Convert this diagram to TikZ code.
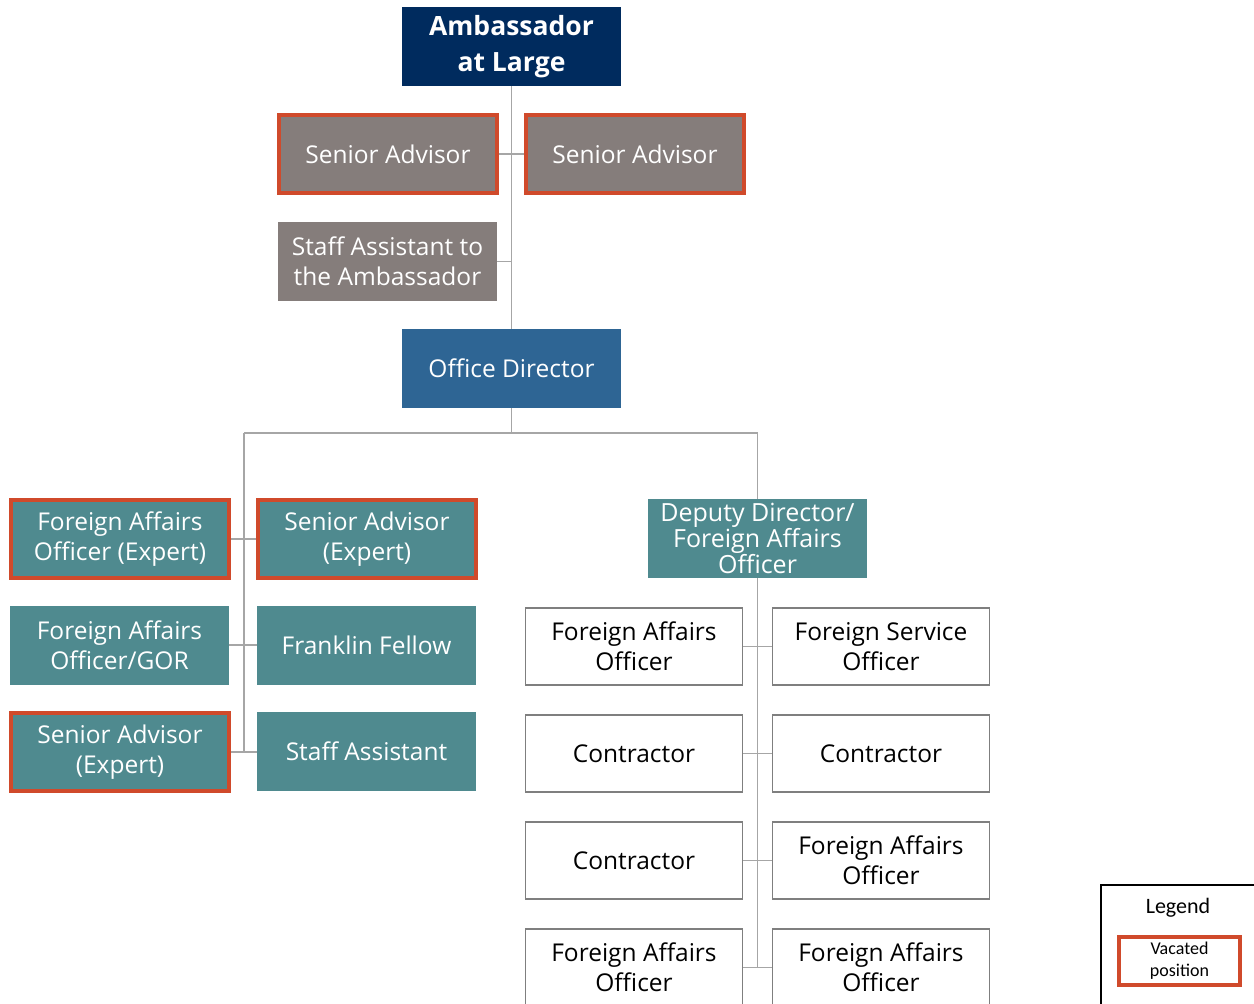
\documentclass[tikz,border=0pt]{standalone}
\usepackage{fontspec}
\setmainfont{Open Sans}
\newfontfamily\legendfont{Carlito}

\definecolor{ambnavy}{RGB}{0,43,94}
\definecolor{dirblue}{RGB}{46,101,148}
\definecolor{advgrey}{RGB}{133,125,123}
\definecolor{orgteal}{RGB}{79,138,143}
\definecolor{vacred}{RGB}{208,74,43}
\definecolor{boxgrey}{RGB}{127,127,127}
\definecolor{linkgrey}{RGB}{166,166,166}

\tikzset{
  box/.style={rectangle, minimum width=219pt, minimum height=79pt, inner sep=2pt,
    align=center, text=white, font=\fontsize{24.5}{30}\selectfont},
  vacant/.style={draw=vacred, line width=4pt, minimum width=218pt, minimum height=78pt},
  greybox/.style={box, fill=advgrey},
  tealbox/.style={box, fill=orgteal},
  whitebox/.style={box, fill=white, draw=boxgrey, line width=1.5pt, text=black,
    minimum width=217pt, minimum height=77pt},
  link/.style={draw=linkgrey, line width=1.3pt}
}

\begin{document}
\begin{tikzpicture}[x=1pt,y=-1pt]
\useasboundingbox (0,0) rectangle (1254,1004);
\clip (0,0) rectangle (1254,1004);

% top of the chart
\node[box, fill=ambnavy, font=\bfseries\fontsize{26.5}{36}\selectfont] (amb) at (511.5,46.5) {Ambassador\\at Large};
\node[greybox, vacant] (sadv1) at (388,154) {Senior Advisor};
\node[greybox, vacant] (sadv2) at (635,154) {Senior Advisor};
\node[greybox] (stamb) at (387.5,261.5) {Staff Assistant to\\the Ambassador};
\node[box, fill=dirblue] (od) at (511.5,368.5) {Office Director};

\draw[link] (amb) -- (od);
\draw[link] (sadv1) -- (sadv2);
\draw[link] (stamb) -- (stamb -| amb);

% left group
\node[tealbox, vacant] (faoexp) at (120,539) {Foreign Affairs\\Officer (Expert)};
\node[tealbox, vacant] (saexp1) at (367,539) {Senior Advisor\\(Expert)};
\node[tealbox] (faogor) at (119.5,645) {Foreign Affairs\\Officer/GOR};
\node[tealbox] (ff) at (366.5,645) {Franklin Fellow};
\node[tealbox, vacant] (saexp2) at (120,752) {Senior Advisor\\(Expert)};
\node[tealbox] (sta) at (366.5,751) {Staff Assistant};

% right group
\node[tealbox, font=\fontsize{25}{24}\selectfont] (dd) at (757.5,538.5) {Deputy Director/\\Foreign Affairs\\Officer};
\node[whitebox] (fao1) at (634,646.5) {Foreign Affairs\\Officer};
\node[whitebox] (fso) at (881,646.5) {Foreign Service\\Officer};
\node[whitebox] (con1) at (634,753.5) {Contractor};
\node[whitebox] (con2) at (881,753.5) {Contractor};
\node[whitebox] (con3) at (634,860.5) {Contractor};
\node[whitebox] (fao2) at (881,860.5) {Foreign Affairs\\Officer};
\node[whitebox] (fao3) at (634,967.5) {Foreign Affairs\\Officer};
\node[whitebox] (fao4) at (881,967.5) {Foreign Affairs\\Officer};

\coordinate (hl) at (244,433);
\coordinate (hr) at (757.5,433);
\draw[link] (od) -- (od |- hl);
\draw[link] (hl) -- (hr) -- (dd);
\draw[link] (hl) -- (hl |- saexp2);
\draw[link] (faoexp) -- (saexp1);
\draw[link] (faogor) -- (ff);
\draw[link] (saexp2) -- (saexp2 -| sta.west);
\draw[link] (dd) -- (dd |- fao3);
\draw[link] (fao1) -- (fso);
\draw[link] (con1) -- (con2);
\draw[link] (con3) -- (fao2);
\draw[link] (fao3) -- (fao4);

% legend
\coordinate (lgtop) at (1101,885);
\draw[line width=1.5pt] (1101,1010) -- (lgtop) -- (1260,885);
\node[font=\legendfont\fontsize{22}{26}\selectfont] (lgtitle) at (1178,908) {Legend};
\node[draw=vacred, line width=4pt, fill=white, minimum width=121pt, minimum height=48pt,
  align=center, inner sep=1pt, font=\legendfont\fontsize{18}{22}\selectfont] (lgvac) at (1179.5,961) {Vacated\\position};
\end{tikzpicture}
\end{document}
